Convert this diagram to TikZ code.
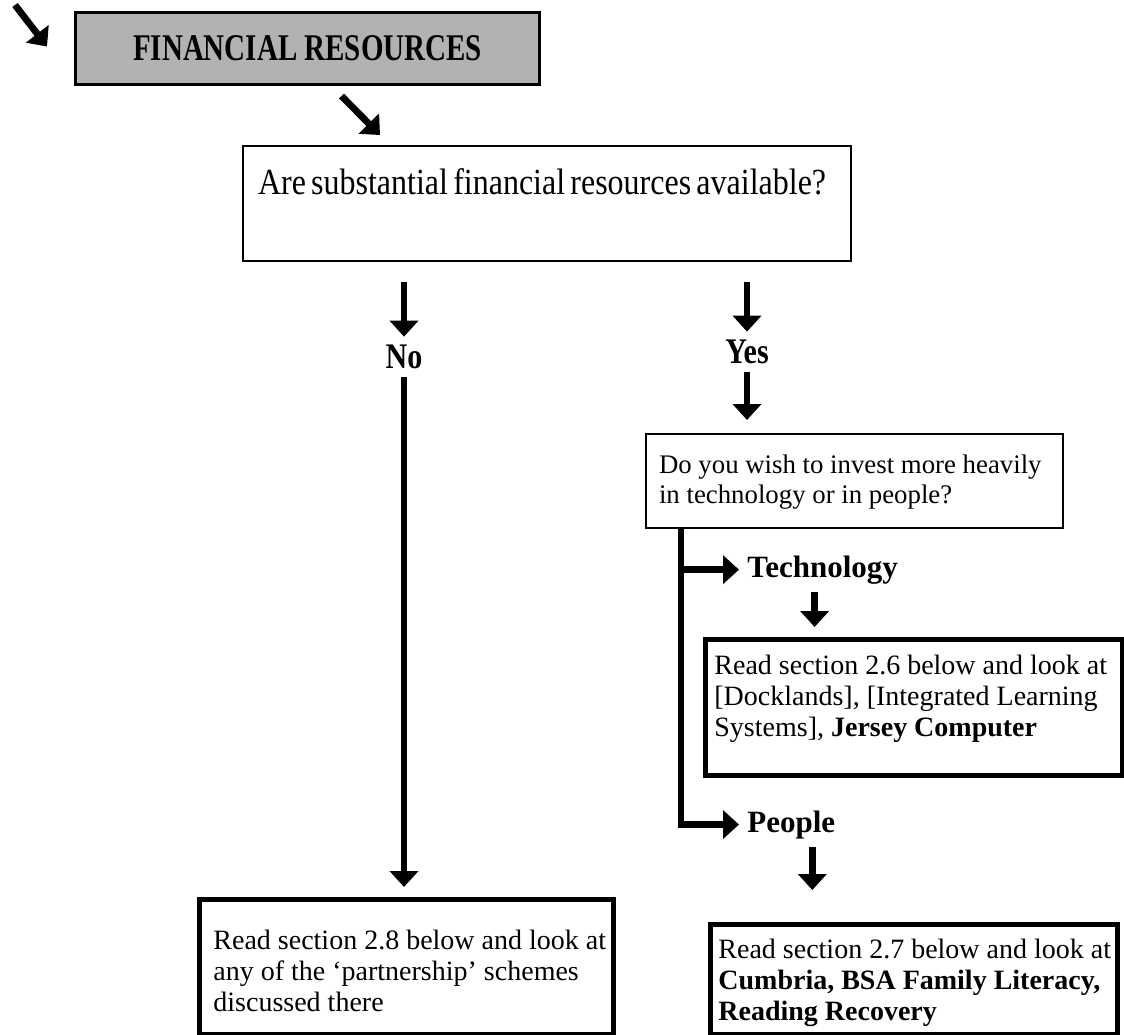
\documentclass[tikz,border=0pt]{standalone}
\usepackage{fontspec}
\setmainfont{Liberation Serif}
\usetikzlibrary{arrows.meta,positioning,calc}

% box text: height, width, first baseline, lines
\newcommand{\boxtext}[4]{\parbox[t][#1][t]{#2}{\rule{0pt}{#3}\begin{tabular}[t]{@{}l@{}}#4\end{tabular}}}
% tall lettering of the scan
\newcommand{\tall}[2]{\scalebox{1}[#1]{#2}}

\begin{document}
\begin{tikzpicture}[x=0.5pt,y=-0.5pt,
  bigarrow/.style={line width=3.4pt,-{Triangle[width=14pt,length=8pt]}},
  boxbase/.style={draw,anchor=north west,inner ysep=0pt,font=\fontsize{14}{15.5}\selectfont},
  boxthin/.style={boxbase,line width=1pt},
  boxthick/.style={boxbase,line width=2.4pt},
  answer/.style={font=\fontsize{15}{16}\selectfont\bfseries,inner sep=4pt},
  choice/.style={font=\fontsize{15.5}{17}\selectfont\bfseries,inner sep=4pt,anchor=base west}]
  \useasboundingbox (0,0) rectangle (1124,1034);

  % heading
  \node[draw,fill=black!30,line width=1.5pt,anchor=north west,minimum width=232pt,
        minimum height=36pt,inner sep=0pt,font=\fontsize{14.5}{16}\selectfont\bfseries]
        (fin) at (74,11) {\tall{1.3}{FINANCIAL RESOURCES}};

  % questions and answers
  \node[boxthin,inner xsep=7.5pt] (avail) at (242,145)
    {\boxtext{57.5pt}{289pt}{24pt}{\fontsize{16}{17}\selectfont\spaceskip=2.6pt\tall{1.15}{Are substantial financial resources available?}}};
  \node[boxthin,inner xsep=6.5pt,font=\fontsize{13.4}{15}\selectfont] (invest) at (645,433)
    {\boxtext{47pt}{195.5pt}{19.5pt}{Do you wish to invest more heavily\\in technology or in people?}};
  \node[boxthick,inner xsep=4.5pt] (techbox) at (703,637)
    {\boxtext{68pt}{199.5pt}{17.5pt}{Read section 2.6 below and look at\\{[}Docklands], [Integrated Learning\\Systems], \textbf{Jersey Computer}}};
  \node[boxthick,inner xsep=4pt] (peoplebox) at (708,922)
    {\boxtext{55pt}{195.5pt}{17pt}{Read section 2.7 below and look at\\\textbf{Cumbria, BSA Family Literacy,}\\\textbf{Reading Recovery}}};
  \node[boxthick,inner xsep=7pt] (partner) at (197,897)
    {\boxtext{67.5pt}{193pt}{25pt}{Read section 2.8 below and look at\\any of the `partnership' schemes\\discussed there}};

  \node[answer] (no) at (404,357) {\tall{1.2}{No}};
  \node[answer] (yes) at (747,352) {\tall{1.2}{Yes}};
  \node[choice] (tech) at (739,577) {Technology};
  \node[choice] (peop) at (739,832) {People};

  % arrows
  \coordinate (start) at (15,5);
  \draw[bigarrow] (start) -- ($(fin.west)+(-27,-2)$);
  \draw[bigarrow] ($(fin.south)+(34,10)$) -- ($(avail.north west)+(138,-10)$);
  \draw[bigarrow,shorten <=10pt] (avail.south -| no) -- (no);
  \draw[bigarrow,shorten >=5pt] (no) -- (no |- partner.north);
  \draw[bigarrow,shorten <=10pt] (avail.south -| yes) -- (yes);
  \draw[bigarrow,shorten >=6.5pt] (yes) -- (yes |- invest.north);
  \coordinate (fork) at ($(invest.south west)+(36,0)$);
  \draw[bigarrow] (fork) |- (peop.west);
  \draw[bigarrow] (fork |- tech.west) -- (tech.west);
  \coordinate (tdown) at ([xshift=-4pt]tech.south);
  \draw[bigarrow,shorten >=5pt] (tdown) -- (tdown |- techbox.north);
  \coordinate (pdown) at ($(peop.south)+(21,0)$);
  \draw[bigarrow,shorten >=16pt] (pdown) -- (pdown |- peoplebox.north);
\end{tikzpicture}
\end{document}
